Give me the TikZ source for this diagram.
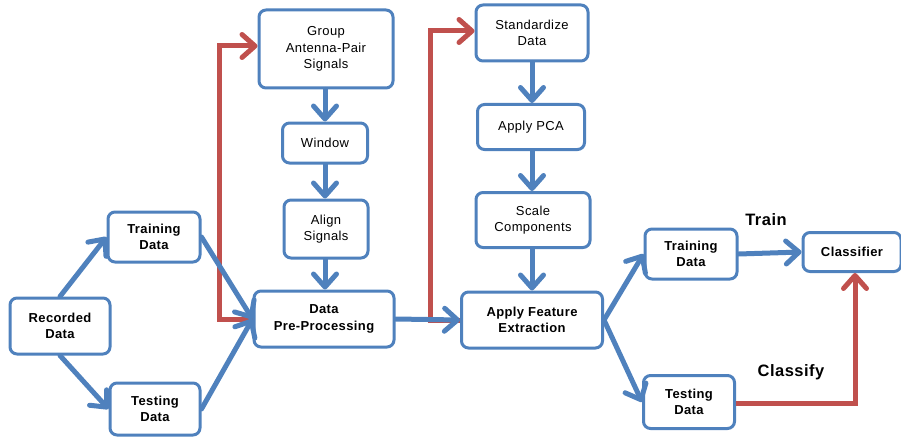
\documentclass[tikz,border=0pt]{standalone}
\usepackage{fontspec}
\setmainfont{Liberation Sans}[LetterSpace=3]
\usetikzlibrary{arrows.meta}
\definecolor{oblue}{HTML}{4F81BD}
\definecolor{ored}{HTML}{C0504D}
\tikzset{
  box/.style={draw=oblue, line width=3pt, rounded corners=7pt, fill=white, align=center, inner sep=0pt, font=\fontsize{13}{16.5}\selectfont},
  bbox/.style={box, font=\fontsize{13}{16.5}\selectfont\bfseries},
  barrow/.style={draw=oblue, line width=5pt, line cap=round, -{Straight Barb[length=13pt,width=23pt,line width=5pt,round]}},
  rarrow/.style={draw=ored, line width=5pt, -{Straight Barb[length=13pt,width=23pt,line width=5pt,round]}},
  lbl/.style={font=\fontsize{16.5}{18}\selectfont\bfseries}
}
\begin{document}
\begin{tikzpicture}[x=1pt,y=-1pt]
\useasboundingbox (0,0) rectangle (901,441);
% nodes
\node[bbox, minimum width=100pt, minimum height=56pt] (rec) at (60,326) {Recorded\\Data};
\node[bbox, minimum width=92pt, minimum height=50pt] (trL) at (154,237) {Training\\Data};
\node[bbox, minimum width=90pt, minimum height=52pt] (teL) at (155,409) {Testing\\Data};
\node[bbox, minimum width=140pt, minimum height=56pt] (pre) at (324,319) {Data\\Pre-Processing};
\node[box, minimum width=134pt, minimum height=78pt] (grp) at (326,49) {Group\\Antenna-Pair\\Signals};
\node[box, minimum width=85pt, minimum height=40pt] (win) at (325,143) {Window};
\node[box, minimum width=84pt, minimum height=58pt] (aln) at (326,229) {Align\\Signals};
\node[box, minimum width=112pt, minimum height=56pt] (std) at (532,33) {Standardize\\Data};
\node[box, minimum width=107pt, minimum height=45pt] (pca) at (531,127) {Apply PCA};
\node[box, minimum width=114pt, minimum height=55pt] (scl) at (533,220) {Scale\\Components};
\node[bbox, minimum width=141pt, minimum height=56pt] (fex) at (532,320) {Apply Feature\\Extraction};
\node[bbox, minimum width=92pt, minimum height=50pt] (trR) at (691,254) {Training\\Data};
\node[bbox, minimum width=91pt, minimum height=53pt] (teR) at (689,402) {Testing\\Data};
\node[bbox, minimum width=98pt, minimum height=39pt] (cls) at (852,252) {Classifier};
\node[lbl] (trainlbl) at (766,220) {Train};
\node[lbl] (classifylbl) at (791,372) {Classify};
% red connectors
\coordinate (r1a) at (219,319);
\coordinate (r1b) at (219,46);
\draw[rarrow] (pre.west) -- (r1a) -- (r1b) -- (grp.west |- r1b);
\coordinate (r2a) at (430,320);
\coordinate (r2b) at (430,31);
\draw[rarrow] (fex.west) -- (r2a) -- (r2b) -- (std.west |- r2b);
\coordinate (r3a) at (855,403);
\draw[rarrow] (teR.east |- r3a) -- (r3a) -- (cls.south -| r3a);
% blue connectors
\draw[barrow] (rec.north) -- (trL.west);
\draw[barrow] (rec.south) -- (teL.west);
\draw[barrow] (trL.east) -- (pre.west);
\draw[barrow] (teL.east) -- (pre.west);
\draw[barrow] (pre.east) -- (fex.west);
\coordinate (mx) at (325,0);
\coordinate (rx) at (532,0);
\draw[barrow] (grp.south -| mx) -- (win.north -| mx);
\draw[barrow] (win.south -| mx) -- (aln.north -| mx);
\draw[barrow] (aln.south -| mx) -- (pre.north -| mx);
\draw[barrow] (std.south -| rx) -- (pca.north -| rx);
\draw[barrow] (pca.south -| rx) -- (scl.north -| rx);
\draw[barrow] (scl.south -| rx) -- (fex.north -| rx);
\draw[barrow] (fex.east) -- (trR.west);
\draw[barrow] (fex.east) -- (teR.west);
\draw[barrow] (trR.east) -- (cls.west);
\end{tikzpicture}
\end{document}
